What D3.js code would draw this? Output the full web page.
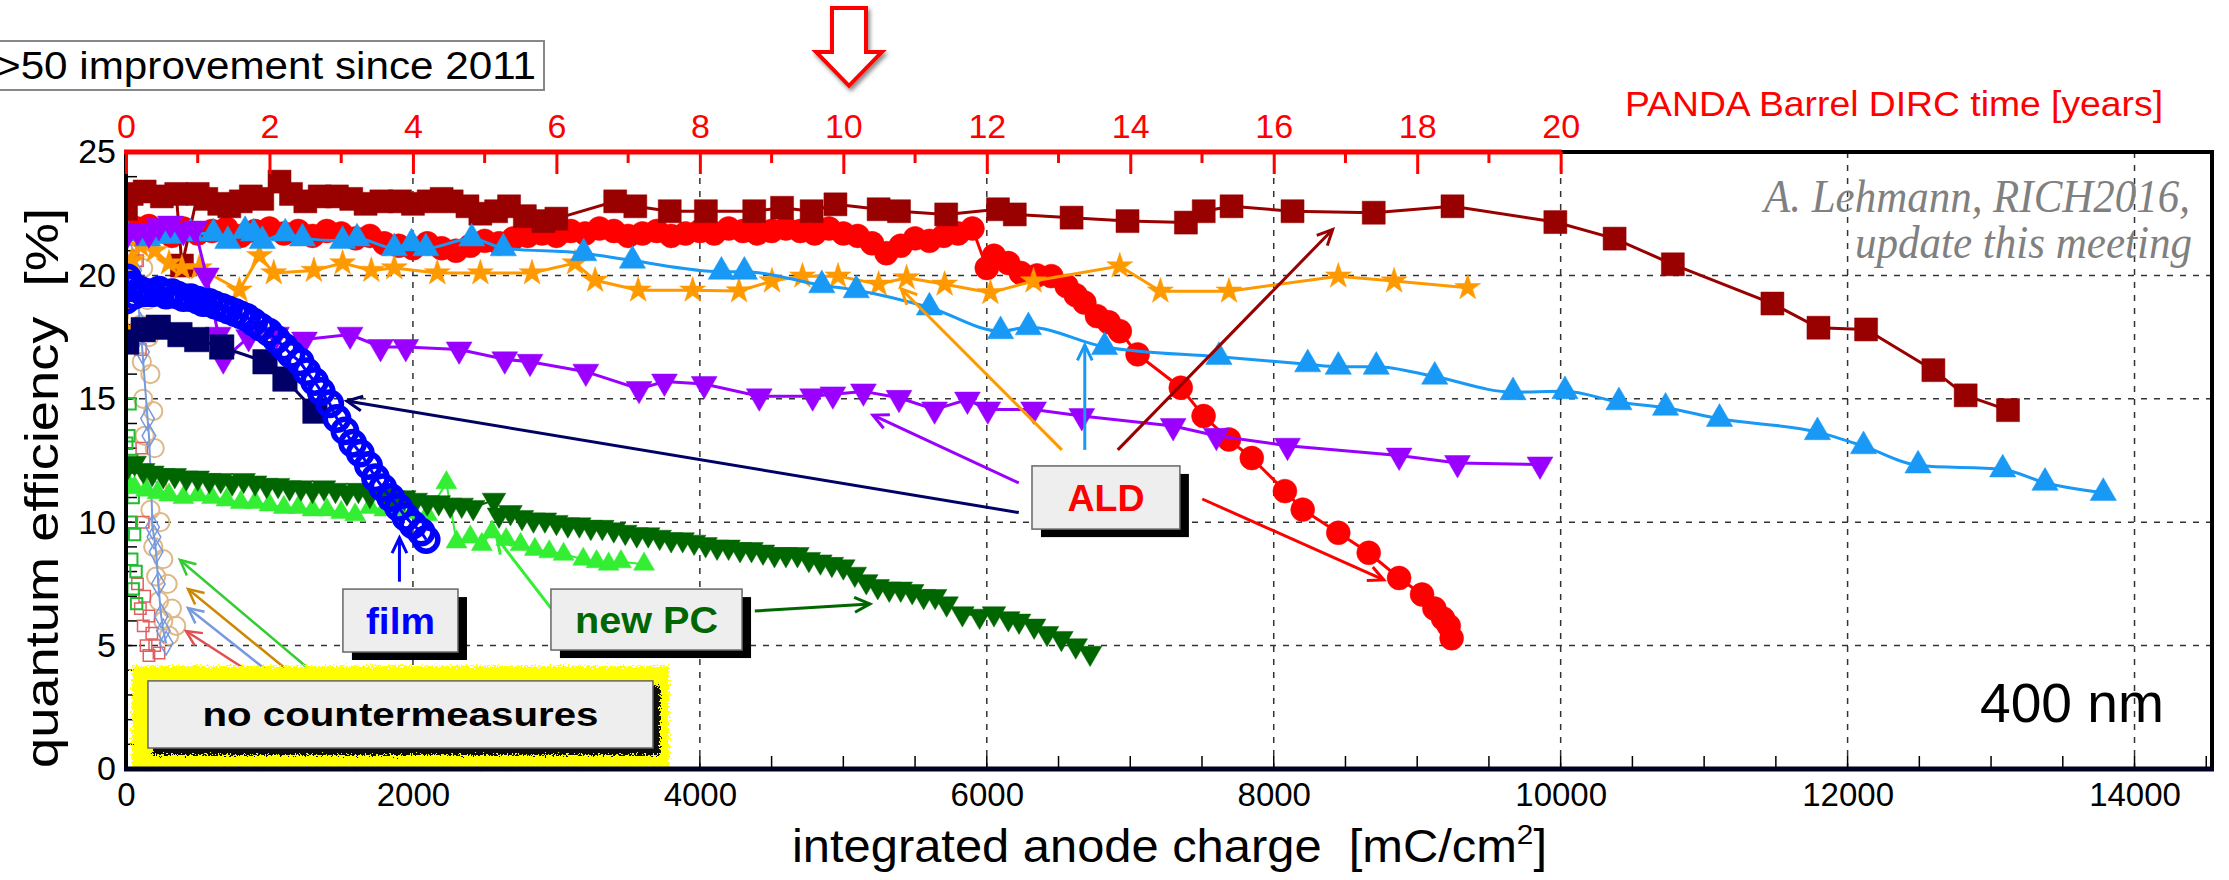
<!DOCTYPE html>
<html>
<head>
<meta charset="utf-8">
<script src="https://cdn.jsdelivr.net/npm/d3@7"></script>
<style>
  body { margin: 0; background: #fff; }
  svg { display: block; }
</style>
</head>
<body>
<svg id="chart" width="2229" height="880" font-family="Liberation Sans, Arial, sans-serif"></svg>
<script>
// Tick values
const chargeTicks = [0, 2000, 4000, 6000, 8000, 10000, 12000, 14000];
const yearTicks = [0, 2, 4, 6, 8, 10, 12, 14, 16, 18, 20];
const effTicks = [0, 5, 10, 15, 20, 25];

// Series: [integrated anode charge (mC/cm2), quantum efficiency (%)]
const ncRed = [[50,21.0],[80,20.6],[100,17],[110,13],[120,10],[80,7.5],[130,7.0],[100,6.5],[160,6.2],[120,5.8],[180,5.5],[140,5.0],[200,5.0],[160,4.6],[230,4.7]];
const ncGreen = [[5,13.2],[28,14.8],[20,13.5],[40,12.5],[10,11.5],[50,11.0],[30,10.0],[60,9.5],[40,8.5],[70,8.0],[50,7.3],[74,6.7]];
const ncTan = [[50,20.5],[120,20.3],[90,19.5],[150,19.0],[100,18.0],[160,17.5],[110,16.5],[170,16.0],[120,15.0],[190,14.5],[130,13.5],[200,13.0],[150,12.0],[220,11.5],[170,10.5],[240,10.0],[190,9.0],[260,8.5],[210,7.8],[290,7.5],[230,6.8],[320,6.5],[260,6.0],[350,5.8],[300,5.4]];
const ncLightBlue = [[28,20.8],[60,20.2],[100,18.0],[115,16.9],[150,14.2],[160,13.5],[175,11.5],[185,9.8],[195,9.4],[210,8.8],[225,7.5],[245,6.2],[260,5.6],[280,5.1]];

const aldRed = [[0,22.2],[80,21.9],[160,22.0],[240,21.8],[320,21.6],[400,21.9],[500,21.7],[600,21.8],[700,21.9],[800,21.6],[900,21.8],[1000,21.9],[1100,21.7],[1200,21.8],[1300,21.6],[1400,21.8],[1500,21.7],[1600,21.5],[1700,21.6],[1800,21.3],[1900,21.2],[2000,21.1],[2100,21.3],[2200,21.1],[2300,21.0],[2400,21.2],[2500,21.4],[2600,21.3],[2700,21.5],[2800,21.6],[2900,21.7],[3000,21.6],[3100,21.8],[3200,21.7],[3300,21.9],[3400,21.8],[3500,21.6],[3600,21.7],[3700,21.8],[3800,21.6],[3900,21.7],[4000,21.8],[4100,21.7],[4200,21.9],[4300,21.8],[4400,21.7],[4500,21.8],[4600,21.9],[4700,21.8],[4800,21.7],[4900,21.9],[5000,21.7],[5100,21.6],[5200,21.3],[5300,20.9],[5400,21.2],[5500,21.5],[5600,21.4],[5700,21.6],[5800,21.7],[5900,21.9],[6000,20.3],[6050,20.8],[6150,20.5],[6237,20.1],[6350,20.0],[6450,19.97],[6556,19.57],[6620,19.2],[6680,18.9],[6768,18.35],[6850,18.1],[6927,17.74],[7051,16.8],[7352,15.45],[7511,14.3],[7688,13.35],[7847,12.6],[8078,11.26],[8202,10.51],[8450,9.57],[8662,8.76],[8874,7.74],[9034,7.07],[9120,6.5],[9180,6.1],[9220,5.8],[9240,5.3]];
const aldDarkRed = [[0,22.7],[40,23.3],[130,23.4],[250,23.2],[350,23.3],[390,20.4],[500,23.3],[560,23.1],[650,22.9],[720,22.8],[800,23.0],[870,23.2],[950,23.1],[1070,23.8],[1150,23.3],[1250,23.0],[1350,23.2],[1470,23.2],[1570,23.1],[1670,22.9],[1780,23.0],[1910,23.0],[2000,22.9],[2110,23.0],[2200,23.1],[2270,23.0],[2380,22.8],[2470,22.5],[2580,22.6],[2670,22.8],[2780,22.4],[2910,22.2],[3000,22.3],[3410,23.0],[3550,22.8],[3790,22.6],[4042,22.6],[4379,22.6],[4573,22.74],[4779,22.6],[4945,22.88],[5246,22.68],[5388,22.6],[5717,22.47],[6078,22.68],[6195,22.47],[6591,22.34],[6981,22.2],[7388,22.14],[7512,22.6],[7706,22.8],[8131,22.6],[8697,22.54],[9246,22.8],[9963,22.16],[10376,21.49],[10782,20.45],[11476,18.86],[11797,17.88],[12129,17.81],[12598,16.16],[12823,15.14],[13118,14.54]];
const aldBlue = [[0,21.7],[150,21.5],[300,21.6],[450,21.7],[610,21.7],[710,21.4],[830,21.8],[890,21.7],[950,21.4],[1110,21.7],[1230,21.5],[1510,21.4],[1610,21.5],[1870,21.1],[1990,21.3],[2090,21.1],[2410,21.5],[2630,21.1],[3190,20.9],[3530,20.6],[4150,20.15],[4310,20.15],[4850,19.6],[5090,19.4],[5600,18.7],[6096,17.74],[6290,17.9],[6821,17.1],[7618,16.7],[8237,16.4],[8450,16.3],[8715,16.3],[9122,15.9],[9668,15.27],[10030,15.31],[10406,14.86],[10731,14.64],[11107,14.19],[11790,13.65],[12111,13.08],[12491,12.30],[13081,12.14],[13376,11.6],[13782,11.19]];
const aldOrange = [[0,17.8],[40,20.6],[100,21.2],[200,21.0],[300,20.5],[390,20.3],[510,20.3],[790,19.4],[930,20.8],[1030,20.1],[1310,20.2],[1510,20.5],[1710,20.2],[1870,20.3],[2170,20.1],[2470,20.1],[2830,20.1],[3130,20.5],[3270,19.8],[3570,19.4],[3950,19.4],[4273,19.37],[4503,19.77],[4715,19.97],[4963,19.97],[5246,19.64],[5441,19.9],[5706,19.64],[6025,19.3],[6326,19.77],[6927,20.38],[7210,19.36],[7688,19.36],[8450,19.97],[8839,19.77],[9352,19.5]];
const aldPurple = [[0,21.6],[80,21.8],[160,21.7],[230,22.0],[310,22.1],[400,21.8],[480,21.9],[560,20.0],[643,17.6],[678,16.6],[855,17.5],[1049,17.6],[1244,17.4],[1562,17.6],[1774,17.1],[1950,17.1],[2322,17.0],[2640,16.6],[2816,16.5],[3205,16.1],[3576,15.4],[3753,15.7],[4030,15.6],[4414,15.1],[4786,15.1],[4927,15.18],[5140,15.3],[5388,15.04],[5636,14.57],[5865,14.97],[6007,14.57],[6326,14.57],[6662,14.3],[7299,13.9],[7600,13.5],[8096,13.1],[8874,12.7],[9281,12.4],[9856,12.34]];
const aldNavy = [[5,17.3],[120,17.8],[225,17.9],[376,17.6],[493,17.4],[667,17.1],[969,16.5],[1108,15.8],[1317,14.5]];
const filmBlue = [[0,19.0],[10,19.9],[20,19.5],[40,19.6],[60,19.2],[100,19.4],[140,19.3],[184,19.3],[230,19.4],[280,19.2],[320,19.3],[360,19.2],[400,19.1],[450,19.1],[500,19.0],[537,18.9],[580,18.9],[620,18.8],[670,18.7],[714,18.6],[760,18.5],[800,18.4],[841,18.3],[890,18.1],[940,17.9],[996,17.7],[1050,17.4],[1102,17.1],[1150,16.8],[1213,16.5],[1260,16.1],[1314,15.7],[1360,15.3],[1420,14.8],[1470,14.2],[1526,13.7],[1580,13.2],[1633,12.8],[1690,12.3],[1739,11.8],[1790,11.4],[1845,11.0],[1900,10.6],[1951,10.2],[2000,9.9],[2057,9.6],[2092,9.3]];
const newPcLight = [[0,11.7],[60,11.4],[140,11.3],[220,11.2],[300,11.1],[400,11.0],[500,11.1],[600,11.0],[700,10.9],[800,10.8],[900,10.8],[1000,10.7],[1100,10.6],[1200,10.6],[1300,10.5],[1400,10.5],[1500,10.4],[1597,10.3],[1700,10.6],[1800,10.5],[1900,10.5],[2000,10.4],[2100,10.3],[2233,11.6],[2304,9.2],[2400,9.4],[2480,9.1],[2551,9.6],[2650,9.3],[2750,9.1],[2850,8.9],[2950,8.8],[3050,8.7],[3187,8.5],[3280,8.4],[3364,8.3],[3450,8.4],[3611,8.3]];
const newPcDark = [[7,12.2],[60,12.4],[120,12.1],[184,12.0],[260,11.9],[340,11.9],[420,11.8],[500,11.8],[580,11.7],[660,11.7],[740,11.6],[820,11.7],[900,11.6],[980,11.5],[1060,11.5],[1140,11.4],[1220,11.4],[1300,11.3],[1380,11.4],[1460,11.3],[1540,11.2],[1620,11.3],[1700,11.1],[1780,11.1],[1860,11.0],[1940,11.0],[2020,10.9],[2100,10.8],[2180,10.8],[2260,10.7],[2340,10.7],[2420,10.6],[2565,10.9],[2600,10.3],[2680,10.4],[2760,10.2],[2840,10.1],[2920,10.1],[3000,10.0],[3080,9.9],[3160,9.9],[3240,9.8],[3320,9.8],[3400,9.7],[3480,9.6],[3560,9.5],[3640,9.5],[3720,9.4],[3800,9.3],[3880,9.3],[3960,9.2],[4040,9.1],[4120,9.0],[4200,9.0],[4280,8.9],[4360,8.9],[4440,8.8],[4520,8.7],[4600,8.7],[4680,8.7],[4760,8.5],[4840,8.4],[4920,8.3],[5000,8.2],[5080,7.9],[5160,7.6],[5240,7.4],[5320,7.3],[5400,7.3],[5480,7.2],[5560,7.0],[5640,7.0],[5720,6.7],[5830,6.3],[5950,6.2],[6050,6.3],[6150,6.1],[6225,6.0],[6330,5.8],[6420,5.5],[6520,5.3],[6620,5.0],[6720,4.7]];

const svg = d3.select("#chart");
const W = 2229, H = 880;
const xMax = 14540;

const x = d3.scaleLinear().domain([0, xMax]).range([126, 2212]);
const y = d3.scaleLinear().domain([0, 25]).range([769, 152]);
const years = d3.scaleLinear().domain([0, xMax / 500]).range([126, 2212]);

svg.append("rect").attr("width", W).attr("height", H).attr("fill", "#fff");

const defs = svg.append("defs");
defs.append("clipPath").attr("id", "plot-clip")
  .append("rect")
  .attr("x", x(0)).attr("y", y(25))
  .attr("width", x(xMax) - x(0)).attr("height", y(0) - y(25));

const fuzz = defs.append("filter").attr("id", "fuzz")
  .attr("x", "-5%").attr("y", "-10%").attr("width", "110%").attr("height", "120%");
fuzz.append("feTurbulence").attr("type", "fractalNoise")
  .attr("baseFrequency", 0.6).attr("numOctaves", 2).attr("result", "noise");
fuzz.append("feDisplacementMap").attr("in", "SourceGraphic").attr("in2", "noise")
  .attr("scale", 10).attr("xChannelSelector", "R").attr("yChannelSelector", "G");

const shadow = defs.append("filter").attr("id", "shadow")
  .attr("x", "-30%").attr("y", "-30%").attr("width", "160%").attr("height", "160%");
shadow.append("feDropShadow").attr("dx", 2).attr("dy", 3)
  .attr("stdDeviation", 2).attr("flood-color", "#888");

// Grid lines
svg.append("g")
  .selectAll("line")
  .data(chargeTicks.filter((d) => d > 0))
  .enter()
  .append("line")
  .attr("x1", (d) => x(d)).attr("x2", (d) => x(d))
  .attr("y1", y(0)).attr("y2", y(25))
  .attr("stroke", "#333").attr("stroke-width", 1.5)
  .attr("stroke-dasharray", "6,7");

svg.append("g")
  .selectAll("line")
  .data(effTicks.filter((d) => d > 0 && d < 25))
  .enter()
  .append("line")
  .attr("x1", x(0)).attr("x2", x(xMax))
  .attr("y1", (d) => y(d)).attr("y2", (d) => y(d))
  .attr("stroke", "#333").attr("stroke-width", 1.5)
  .attr("stroke-dasharray", "6,7");

// Minor ticks (inside)
svg.append("g")
  .selectAll("line")
  .data(d3.range(500, xMax, 500))
  .enter()
  .append("line")
  .attr("x1", (d) => x(d)).attr("x2", (d) => x(d))
  .attr("y1", y(0)).attr("y2", y(0) - 13)
  .attr("stroke", "#000").attr("stroke-width", 1.5);

svg.append("g")
  .selectAll("line")
  .data(d3.range(1, 25, 1))
  .enter()
  .append("line")
  .attr("x1", x(0)).attr("x2", x(0) + 11)
  .attr("y1", (d) => y(d)).attr("y2", (d) => y(d))
  .attr("stroke", "#000").attr("stroke-width", 1.5);

// Series
const plot = svg.append("g").attr("clip-path", "url(#plot-clip)");

const seriesList = [
  { data: ncTan, color: "#deb887", symbol: d3.symbolCircle, size: 260, open: true, lw: 0, sw: 2 },
  { data: ncRed, color: "#e06060", symbol: d3.symbolSquare, size: 130, open: true, lw: 0, sw: 1.5 },
  { data: ncGreen, color: "#22bb33", symbol: d3.symbolSquare, size: 130, open: true, lw: 0, sw: 2 },
  { data: ncLightBlue, color: "#7799dd", symbol: d3.symbolDiamond, size: 160, open: true, lw: 2, sw: 1.5 },
  { data: aldRed, color: "#ff0000", symbol: d3.symbolCircle, size: 450, lw: 3 },
  { data: aldDarkRed, color: "#990000", symbol: d3.symbolSquare, size: 530, lw: 3 },
  { data: aldOrange, color: "#ff9900", symbol: d3.symbolStar, size: 210, lw: 3 },
  { data: aldBlue, color: "#1899f5", symbol: d3.symbolTriangle, size: 300, lw: 3, smooth: true },
  { data: aldPurple, color: "#9900ff", symbol: d3.symbolTriangle, size: 290, lw: 3, down: true },
  { data: aldNavy, color: "#000066", symbol: d3.symbolSquare, size: 600, lw: 3 },
  { data: newPcLight, color: "#33ee33", symbol: d3.symbolTriangle, size: 190, lw: 2 },
  { data: newPcDark, color: "#006600", symbol: d3.symbolTriangle, size: 240, lw: 2, down: true },
  { data: filmBlue, color: "#0000ff", symbol: d3.symbolCircle, size: 430, open: true, lw: 3, sw: 5.5 },
];

seriesList.forEach((s) => {
  if (s.lw > 0) {
    const line = d3.line()
      .x((d) => x(d[0]))
      .y((d) => y(d[1]))
      .curve(s.smooth ? d3.curveMonotoneX : d3.curveLinear);

    plot.append("path")
      .datum(s.data)
      .attr("d", line)
      .attr("fill", "none")
      .attr("stroke", s.color)
      .attr("stroke-width", s.lw);
  }

  plot.append("g")
    .selectAll("path")
    .data(s.data)
    .enter()
    .append("path")
    .attr("d", d3.symbol().type(s.symbol).size(s.size))
    .attr("transform", (d) =>
      `translate(${x(d[0])},${y(d[1])})` + (s.down ? " rotate(180)" : ""))
    .attr("fill", s.open ? "none" : s.color)
    .attr("stroke", s.color)
    .attr("stroke-width", s.open ? s.sw : 0.5);
});

// Arrow helper
function arrow(x1, y1, x2, y2, color, width) {
  const px1 = x(x1), py1 = y(y1), px2 = x(x2), py2 = y(y2);
  const ang = Math.atan2(py2 - py1, px2 - px1);
  const len = 17, spread = 0.45;
  svg.append("line")
    .attr("x1", px1).attr("y1", py1).attr("x2", px2).attr("y2", py2)
    .attr("stroke", color).attr("stroke-width", width);
  svg.append("path")
    .attr("d", `M${px2 - len * Math.cos(ang - spread)},${py2 - len * Math.sin(ang - spread)}` +
      `L${px2},${py2}` +
      `L${px2 - len * Math.cos(ang + spread)},${py2 - len * Math.sin(ang + spread)}`)
    .attr("fill", "none").attr("stroke", color).attr("stroke-width", width);
}

// ALD arrows
arrow(6523, 12.93, 5404, 19.45, "#ff9900", 3);
arrow(6683, 12.93, 6683, 17.18, "#1899f5", 3);
arrow(6913, 12.93, 8411, 21.86, "#990000", 3);
arrow(6223, 11.59, 5206, 14.34, "#9900ff", 3);
arrow(6223, 10.39, 1540, 14.91, "#000066", 3);
arrow(7502, 10.94, 8767, 7.66, "#ff0000", 3);

// film / new PC arrows
arrow(1906, 7.59, 1906, 9.37, "#0000ff", 3);
arrow(2962, 6.52, 2585, 9.36, "#33ee33", 3);
arrow(4383, 6.4, 5185, 6.69, "#006600", 3);

// no countermeasures arrows
arrow(829, 4.05, 418, 5.59, "#e05050", 2.5);
arrow(969, 4.05, 432, 6.52, "#7799dd", 2.5);
arrow(1115, 4.05, 432, 7.29, "#cc8800", 2.5);
arrow(1275, 4.05, 376, 8.47, "#33cc33", 2.5);

// Label boxes
function labelBox(x0, x1, y0, y1, label, color, textLen) {
  const bx = x(x0), by = y(y0), bw = x(x1) - x(x0), bh = y(y1) - y(y0);
  svg.append("rect")
    .attr("x", bx + 9).attr("y", by + 8).attr("width", bw).attr("height", bh)
    .attr("fill", "#000");
  svg.append("rect")
    .attr("x", bx).attr("y", by).attr("width", bw).attr("height", bh)
    .attr("fill", "#eeeeee").attr("stroke", "#666").attr("stroke-width", 1.5);
  svg.append("text")
    .attr("x", bx + bw / 2).attr("y", by + bh / 2 + 13)
    .attr("text-anchor", "middle")
    .attr("font-size", 37).attr("font-weight", "bold")
    .attr("fill", color)
    .attr("textLength", textLen).attr("lengthAdjust", "spacingAndGlyphs")
    .text(label);
}

labelBox(1512, 2314, 7.29, 4.74, "film", "#0000ff", 69);
labelBox(2962, 4294, 7.29, 4.82, "new PC", "#006600", 143);
labelBox(6315, 7346, 12.28, 9.72, "ALD", "#ff0000", 77);

// no countermeasures box (yellow fuzzy)
svg.append("rect")
  .attr("x", x(63)).attr("y", y(4.05))
  .attr("width", x(3764) - x(63)).attr("height", y(0.12) - y(4.05))
  .attr("fill", "#ffff00").attr("stroke", "#ffff00").attr("stroke-width", 6)
  .attr("filter", "url(#fuzz)");
svg.append("rect")
  .attr("x", x(153) + 6).attr("y", y(3.57) + 6)
  .attr("width", x(3673) - x(153)).attr("height", y(0.85) - y(3.57))
  .attr("fill", "#111").attr("stroke", "#111").attr("stroke-width", 2)
  .attr("filter", "url(#fuzz)");
svg.append("rect")
  .attr("x", x(153)).attr("y", y(3.57))
  .attr("width", x(3673) - x(153)).attr("height", y(0.85) - y(3.57))
  .attr("fill", "#eeeeee").attr("stroke", "#666").attr("stroke-width", 1.5);
svg.append("text")
  .attr("x", (x(153) + x(3673)) / 2).attr("y", (y(3.57) + y(0.85)) / 2 + 12)
  .attr("text-anchor", "middle")
  .attr("font-size", 34).attr("font-weight", "bold").attr("fill", "#000")
  .attr("textLength", 396).attr("lengthAdjust", "spacingAndGlyphs")
  .text("no countermeasures");

// Frame
svg.append("line")
  .attr("x1", x(0)).attr("x2", x(0)).attr("y1", y(25)).attr("y2", y(0))
  .attr("stroke", "#000").attr("stroke-width", 4);
svg.append("line")
  .attr("x1", x(xMax)).attr("x2", x(xMax)).attr("y1", y(25)).attr("y2", y(0))
  .attr("stroke", "#000").attr("stroke-width", 4);
svg.append("line")
  .attr("x1", x(0) - 2).attr("x2", x(xMax) + 2).attr("y1", y(0)).attr("y2", y(0))
  .attr("stroke", "#000022").attr("stroke-width", 5);
svg.append("line")
  .attr("x1", years(20)).attr("x2", x(xMax) + 2).attr("y1", y(25)).attr("y2", y(25))
  .attr("stroke", "#000").attr("stroke-width", 4);
svg.append("line")
  .attr("x1", years(0) - 2).attr("x2", years(20) + 1).attr("y1", y(25)).attr("y2", y(25))
  .attr("stroke", "#ff0000").attr("stroke-width", 5);

// Bottom axis
const xAxis = svg.append("g")
  .attr("transform", `translate(0,${y(0)})`)
  .call(d3.axisBottom(x).tickValues(chargeTicks).tickSize(0).tickPadding(14).tickFormat(d3.format("d")));
xAxis.select(".domain").remove();
xAxis.attr("font-family", null).attr("font-size", 33);
xAxis.selectAll("text").attr("fill", "#000");

// Left axis
const yAxis = svg.append("g")
  .attr("transform", `translate(${x(0)},0)`)
  .call(d3.axisLeft(y).tickValues(effTicks).tickSize(0).tickPadding(10));
yAxis.select(".domain").remove();
yAxis.attr("font-family", null).attr("font-size", 34);
yAxis.selectAll("text").attr("fill", "#000");

// Top axis (years)
const topAxis = svg.append("g")
  .attr("transform", `translate(0,${y(25)})`)
  .attr("color", "#ff0000")
  .call(d3.axisTop(years).tickValues(yearTicks).tickSize(-22).tickPadding(14));
topAxis.select(".domain").remove();
topAxis.attr("font-family", null).attr("font-size", 34);
topAxis.selectAll("line").attr("stroke-width", 3);
topAxis.selectAll("text").attr("fill", "#ff0000");

svg.append("g")
  .selectAll("line")
  .data(d3.range(1, 20, 2))
  .enter()
  .append("line")
  .attr("x1", (d) => years(d)).attr("x2", (d) => years(d))
  .attr("y1", y(25)).attr("y2", y(25) + 11)
  .attr("stroke", "#ff0000").attr("stroke-width", 3);

svg.append("text")
  .attr("x", 1625).attr("y", 116)
  .attr("font-size", 35).attr("fill", "#ff0000")
  .attr("textLength", 538).attr("lengthAdjust", "spacingAndGlyphs")
  .text("PANDA Barrel DIRC time [years]");

// Axis titles
svg.append("text")
  .attr("x", 792).attr("y", 862)
  .attr("font-size", 46).attr("fill", "#000")
  .style("white-space", "pre")
  .attr("textLength", 755).attr("lengthAdjust", "spacingAndGlyphs")
  .call((t) => {
    t.append("tspan").text("integrated anode charge  [mC/cm");
    t.append("tspan").attr("dy", -18).attr("font-size", 28).text("2");
    t.append("tspan").attr("dy", 18).text("]");
  });

svg.append("text")
  .attr("transform", "translate(58,488) rotate(-90)")
  .attr("text-anchor", "middle")
  .attr("font-size", 46).attr("fill", "#000")
  .style("white-space", "pre")
  .attr("textLength", 560).attr("lengthAdjust", "spacingAndGlyphs")
  .text("quantum efficiency  [%]");

// Annotations
svg.append("text")
  .attr("x", 1980).attr("y", 722)
  .attr("font-size", 56).attr("fill", "#000")
  .attr("textLength", 184).attr("lengthAdjust", "spacingAndGlyphs")
  .text("400 nm");

svg.append("text")
  .attr("x", 1764).attr("y", 212)
  .attr("font-family", "Liberation Serif, Times New Roman, serif")
  .attr("font-style", "italic").attr("font-size", 46).attr("fill", "#808080")
  .attr("textLength", 426).attr("lengthAdjust", "spacingAndGlyphs")
  .text("A. Lehmann, RICH2016,");
svg.append("text")
  .attr("x", 1855).attr("y", 258)
  .attr("font-family", "Liberation Serif, Times New Roman, serif")
  .attr("font-style", "italic").attr("font-size", 46).attr("fill", "#808080")
  .attr("textLength", 337).attr("lengthAdjust", "spacingAndGlyphs")
  .text("update this meeting");

// Improvement box
svg.append("rect")
  .attr("x", -2).attr("y", 41).attr("width", 546).attr("height", 49)
  .attr("fill", "#fff").attr("stroke", "#888").attr("stroke-width", 2);
svg.append("text")
  .attr("x", -4).attr("y", 79)
  .attr("font-size", 38).attr("fill", "#000")
  .attr("textLength", 540).attr("lengthAdjust", "spacingAndGlyphs")
  .text(">50 improvement since 2011");

// Red down arrow
svg.append("path")
  .attr("d", "M832,8 L866,8 L866,52 L882,52 L849,86 L816,52 L832,52 Z")
  .attr("fill", "#fff").attr("stroke", "#ff0000").attr("stroke-width", 4)
  .attr("stroke-linejoin", "miter")
  .attr("filter", "url(#shadow)");
</script>
</body>
</html>
